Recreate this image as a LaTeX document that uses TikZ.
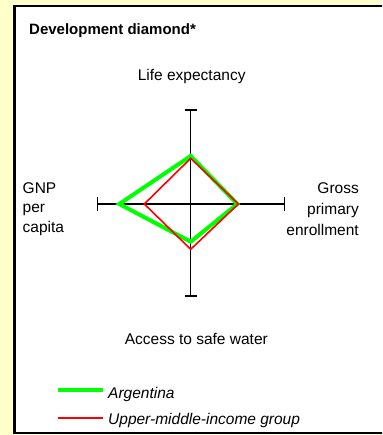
\documentclass[tikz,border=0pt]{standalone}
\usepackage{fontspec}
\setmainfont{Liberation Sans}
\definecolor{bgyellow}{HTML}{FFFFCC}
\definecolor{dgreen}{HTML}{00FF00}
\definecolor{dred}{HTML}{FF0000}
\begin{document}
\begin{tikzpicture}[x=1pt,y=-1pt,
  font=\fontsize{15.5}{19.7}\selectfont,
  axis/.style={line width=1.5pt,black},
  argline/.style={line width=4pt,dgreen,line join=miter},
  umiline/.style={line width=1.6pt,dred,line join=miter},
  lbl/.style={inner sep=0pt}]
\useasboundingbox (0,0) rectangle (382,435);
\fill[bgyellow] (0,0) rectangle (382,435);
\begin{scope}
\clip (0,0) rectangle (382,435);
\draw[line width=2.4pt, fill=white] (14.5,6.2) rectangle (400,433);
\end{scope}
% title
\node[lbl, anchor=base west, font=\fontsize{15}{18}\selectfont\bfseries] (title) at (29,34.3) {Development diamond*};
% axes
\coordinate (top) at (190.7,110);
\coordinate (bot) at (190.7,296);
\coordinate (lft) at (97.7,204);
\coordinate (rgt) at (284.3,204);
\draw[axis] (top) -- (bot);
\draw[axis] (lft) -- (rgt);
\draw[axis] ([xshift=-6pt]top) -- ([xshift=6pt]top);
\draw[axis] ([xshift=-6pt]bot) -- ([xshift=6pt]bot);
\draw[axis] ([yshift=-7pt]lft) -- ([yshift=7pt]lft);
\draw[axis] ([yshift=-7pt]rgt) -- ([yshift=7pt]rgt);
% Argentina diamond
\coordinate (ga) at (190.7,156);
\coordinate (gr) at (237.3,204);
\coordinate (gb) at (190.7,241.7);
\coordinate (gl) at (119.3,204);
\draw[argline] (ga) -- (gr) -- (gb) -- (gl) -- cycle;
% Upper-middle-income diamond
\coordinate (ra) at (190.7,158.3);
\coordinate (rr) at (238.3,204);
\coordinate (rb) at (190.7,249.3);
\coordinate (rl) at (144.3,204);
\draw[umiline] (ra) -- (rr) -- (rb) -- (rl) -- cycle;
% axis labels
\node[lbl, anchor=base] (life) at (191.7,81) {Life expectancy};
\node[lbl, anchor=base] (water) at (196.3,344) {Access to safe water};
\node[lbl, align=left, anchor=west] (gnp) at (22.5,209.1) {GNP\\per\\capita};
\node[lbl, align=right, anchor=east, font=\fontsize{15.5}{20.8}\selectfont] (gross) at (359,209.3) {Gross\\primary\\enrollment};
% legend
\coordinate (lg1) at (58,390);
\coordinate (lg2) at (103,390);
\coordinate (lr1) at (58,417.7);
\coordinate (lr2) at (103,417.7);
\draw[line width=3.2pt,dgreen] (lg1) -- (lg2);
\draw[line width=1.6pt,dred] (lr1) -- (lr2);
\node[lbl, anchor=base west, font=\fontsize{15.5}{19.7}\selectfont\itshape] (larg) at (108,398.3) {Argentina};
\node[lbl, anchor=base west, font=\fontsize{15.5}{19.7}\selectfont\itshape] (lumi) at (108,424.3) {Upper-middle-income group};
\end{tikzpicture}
\end{document}
